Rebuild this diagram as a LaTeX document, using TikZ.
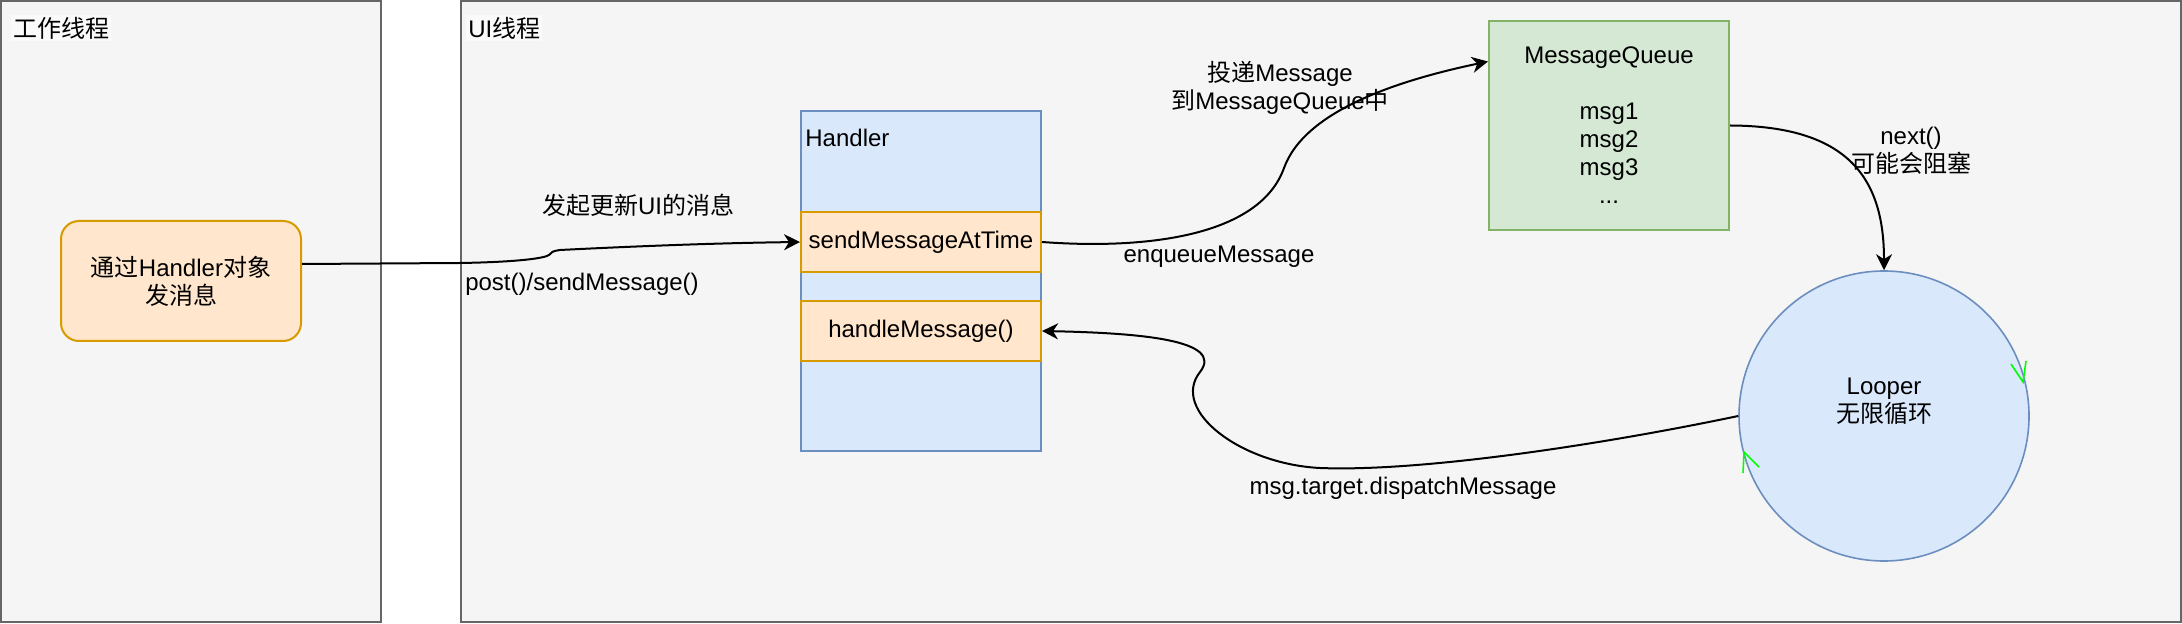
\documentclass[tikz,border=0pt]{standalone}
\usepackage{fontspec}
\setmainfont{Liberation Sans}
\newfontfamily\cjk{Noto Sans CJK SC}
\usepackage{tikz}
\usetikzlibrary{arrows.meta,positioning,calc}
\definecolor{panelgray}{HTML}{F5F5F5}
\definecolor{panelline}{HTML}{666666}
\definecolor{labelbg}{HTML}{FAFAFA}
\definecolor{orangefill}{HTML}{FFE6CC}
\definecolor{orangeline}{HTML}{D79B00}
\definecolor{bluefill}{HTML}{DAE8FC}
\definecolor{blueline}{HTML}{6C8EBF}
\definecolor{greenfill}{HTML}{D5E8D4}
\definecolor{greenline}{HTML}{82B366}
\definecolor{markgreen}{HTML}{00FF00}

\begin{document}
\begin{tikzpicture}[x=0.5pt,y=-0.5pt,
  font=\fontsize{12}{14}\selectfont,
  panel/.style={draw=panelline,line width=1pt,fill=panelgray,inner sep=0pt},
  lanetitle/.style={fill=labelbg,inner sep=1pt,anchor=west},
  objbox/.style={draw=orangeline,line width=1pt,fill=orangefill,rounded corners=9pt,
    minimum width=120pt,minimum height=60pt,align=center,inner sep=0pt},
  methodbox/.style={draw=orangeline,line width=1pt,fill=orangefill,
    minimum width=120pt,minimum height=30pt,inner sep=0pt},
  handlerbox/.style={draw=blueline,line width=1pt,fill=bluefill,
    minimum width=120pt,minimum height=170pt,inner sep=0pt},
  queuebox/.style={draw=greenline,line width=1pt,fill=greenfill,
    minimum width=120pt,minimum height=104.5pt,align=center,inner sep=0pt},
  loopcirc/.style={circle,draw=blueline,line width=0.8pt,fill=bluefill,
    minimum size=145pt,inner sep=0pt},
  conn/.style={line width=1pt,-{Stealth[length=8pt,width=8pt,inset=2.5pt]}},
  edgetext/.style={inner sep=0pt,align=center},
  loopmark/.style={draw=markgreen,line width=0.8pt}
]
  \useasboundingbox (0,0) rectangle (2182,624);
  % thread lanes
  \node[panel,minimum width=190pt,minimum height=310.5pt] (worker) at (191,311.5) {};
  \node[panel,minimum width=860pt,minimum height=310.5pt] (ui) at (1321,311.5) {};
  \node[lanetitle] (workertitle) at (11,28) {\cjk 工作线程};
  \node[lanetitle] (uititle) at (466,28) {UI{\cjk 线程}};

  % boxes
  \node[objbox] (obj) at (181,281) {{\cjk 通过}Handler{\cjk 对象}\\{\cjk 发消息}};
  \node[handlerbox] (handler) at (921,281) {};
  \node[anchor=west,inner sep=0pt] (handlertitle) at (805,138) {Handler};
  \node[methodbox] (sendAt) at (921,242) {sendMessageAtTime};
  \node[methodbox] (handle) at (921,331) {handleMessage()};
  \node[queuebox] (mq) at (1609,125.5) {MessageQueue\\[14pt]msg1\\msg2\\msg3\\...};
  \node[loopcirc] (looper) at (1884,416) {};
  \node[edgetext] (loopertext) at (1884,401) {Looper\\{\cjk 无限循环}};
  \draw[loopmark] ($(looper.center)+(127,-52)$) -- ++(12,18) -- ++(3,-21);
  \draw[loopmark] ($(looper.center)+(-141,57)$) -- ++(1,-21) -- ++(15,15);

  % connectors
  \draw[conn] ($(obj.east)+(0,-17)$) -- (460,263) .. controls (520,262) and (545,258) .. (549,255)
    .. controls (551,252) and (553,251) .. (560,250) .. controls (640,246) and (720,243) .. (sendAt.west);
  \node[edgetext] (sendtext) at (638,205) {{\cjk 发起更新}UI{\cjk 的消息}};
  \node[edgetext] (posttext) at (582,284) {post()/sendMessage()};

  \draw[conn] (sendAt.east) .. controls (1150,250) and (1260,235) .. (1284,168)
    .. controls (1305,110) and (1400,80) .. ($(mq.west)+(0,-64)$);
  \node[edgetext] (deliver) at (1280,88) {{\cjk 投递}Message\\{\cjk 到}MessageQueue{\cjk 中}};
  \node[edgetext] (enqueue) at (1219,257) {enqueueMessage};

  \draw[conn] (mq.east) .. controls (1850,126) and (1884,180) .. (looper.north);
  \node[edgetext] (nexttext) at (1911,151) {next()\\{\cjk 可能会阻塞}};

  \draw[conn] (looper.west) .. controls (1600,445) and (1420,472) .. (1320,468)
    .. controls (1240,464) and (1170,410) .. (1200,372)
    .. controls (1225,340) and (1140,333) .. (handle.east);
  \node[edgetext] (dispatch) at (1403,488) {msg.target.dispatchMessage};
\end{tikzpicture}
\end{document}
